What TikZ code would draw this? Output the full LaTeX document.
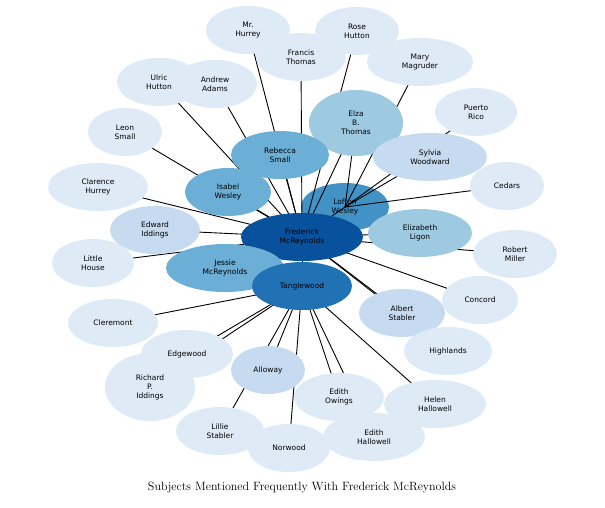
\documentclass[tikz,border=0pt]{standalone}
\usepackage{fontspec}
\setsansfont{DejaVu Sans}
\usetikzlibrary{shapes.geometric}
\pgfdeclarelayer{background}
\pgfsetlayers{background,main}
\definecolor{bA}{HTML}{DEEBF7}
\definecolor{bB}{HTML}{C6DBEF}
\definecolor{bC}{HTML}{9ECAE1}
\definecolor{bD}{HTML}{6BAED6}
\definecolor{bE}{HTML}{4292C6}
\definecolor{bF}{HTML}{2171B5}
\definecolor{bG}{HTML}{08519C}
\tikzset{
  subj/.style={ellipse, fill=bA, inner sep=0pt, minimum width=84pt, minimum height=48pt,
    align=center, font=\sffamily\fontsize{7.5}{9}\selectfont},
  link/.style={black, line width=0.9pt}
}
\begin{document}
\begin{tikzpicture}[x=1pt, y=-1pt]
\useasboundingbox (0,0) rectangle (605,508);
\node[subj] (hurrey) at (248,30) {Mr.\\Hurrey};
\node[subj] (rose) at (357,31) {Rose\\Hutton};
\node[subj, minimum width=90pt] (francis) at (301,57) {Francis\\Thomas};
\node[subj, minimum width=106pt] (mary) at (420,62) {Mary\\Magruder};
\node[subj] (andrew) at (215,84) {Andrew\\Adams};
\node[subj] (ulric) at (159,82) {Ulric\\Hutton};
\node[subj, minimum width=94pt, minimum height=66pt, fill=bC] (elza) at (356,123) {Elza\\B.\\Thomas};
\node[subj, minimum width=82pt] (puerto) at (476,112) {Puerto\\Rico};
\node[subj, minimum width=74pt] (leon) at (125,132) {Leon\\Small};
\node[subj, minimum width=98pt, fill=bD] (rebecca) at (280,155) {Rebecca\\Small};
\node[subj, minimum width=114pt, fill=bB] (sylvia) at (430,157) {Sylvia\\Woodward};
\node[subj, minimum width=100pt] (clarence) at (98,187) {Clarence\\Hurrey};
\node[subj, minimum width=86pt, fill=bD] (isabel) at (228,192) {Isabel\\Wesley};
\node[subj, minimum width=74pt] (cedars) at (507,186) {Cedars};
\node[subj, minimum width=90pt, fill=bB] (edward) at (155,230) {Edward\\Iddings};
\node[subj, minimum width=104pt, fill=bC] (elizabeth) at (420,233) {Elizabeth\\Ligon};
\begin{pgfonlayer}{background}
\node[subj, minimum width=88pt, fill=bE] (lofton) at (345,207) {Lofton\\Wesley};
\end{pgfonlayer}
\node[subj, minimum width=122pt, fill=bG] (fred) at (302,237) {Frederick\\McReynolds};
\node[subj] (robert) at (515,254) {Robert\\Miller};
\node[subj, minimum width=82pt] (little) at (93,263) {Little\\House};
\node[subj, minimum width=118pt, fill=bD] (jessie) at (225,268) {Jessie\\McReynolds};
\node[subj, minimum width=100pt, fill=bF] (tangle) at (302,286) {Tanglewood};
\node[subj, minimum width=76pt] (concord) at (480,300) {Concord};
\node[subj, minimum width=86pt, fill=bB] (albert) at (402,313) {Albert\\Stabler};
\node[subj, minimum width=90pt] (cleremont) at (113,323) {Cleremont};
\node[subj, minimum width=88pt] (highlands) at (448,351) {Highlands};
\node[subj, minimum width=92pt] (edgewood) at (187,354) {Edgewood};
\node[subj, minimum width=74pt, fill=bB] (alloway) at (268,370) {Alloway};
\node[subj, minimum width=90pt, minimum height=68pt] (richard) at (150,387) {Richard\\P.\\Iddings};
\node[subj, minimum width=90pt] (owings) at (339,397) {Edith\\Owings};
\node[subj, minimum width=102pt] (helen) at (435,404) {Helen\\Hallowell};
\node[subj, minimum width=88pt] (lillie) at (220,431) {Lillie\\Stabler};
\node[subj, minimum width=102pt] (edith) at (374,437) {Edith\\Hallowell};
\node[subj, minimum width=82pt] (norwood) at (289,448) {Norwood};
% connectors behind the subjects
\begin{pgfonlayer}{background}
\foreach \s in {hurrey,francis,andrew,ulric,leon,clarence,edward,little,jessie,isabel,rebecca,elza,lofton,tangle,elizabeth,robert,concord,albert,highlands,rose}
  \draw[link] (fred.center) -- (\s.center);
\foreach \s in {mary,elza,sylvia,puerto,cedars}
  \draw[link] (lofton.center) -- (\s.center);
\foreach \s in {cleremont,edgewood,richard,alloway,lillie,norwood,owings,edith,helen}
  \draw[link] (tangle.center) -- (\s.center);
\end{pgfonlayer}
\node[font=\fontsize{12}{14}\selectfont] (title) at (302,487) {Subjects Mentioned Frequently With Frederick McReynolds};
\end{tikzpicture}
\end{document}
